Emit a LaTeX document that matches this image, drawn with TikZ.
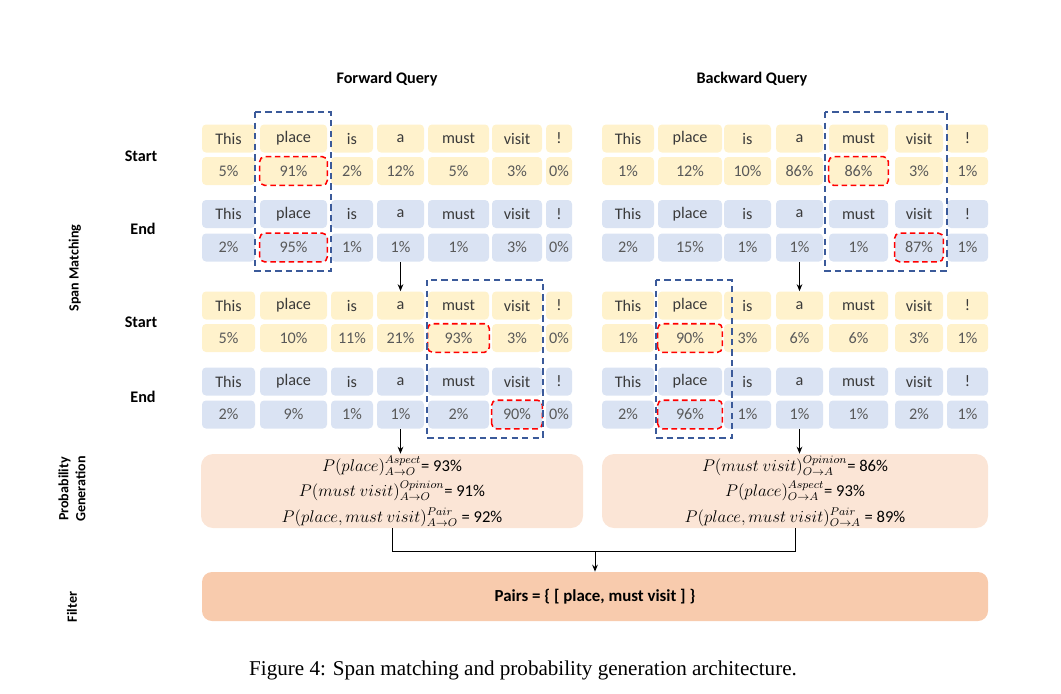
\documentclass[tikz,border=0pt]{standalone}
\usepackage{fontspec}
\setmainfont{Carlito}
\newfontfamily\capfont{Liberation Serif}
\usetikzlibrary{arrows.meta}

\definecolor{startfill}{HTML}{FFF2CC}
\definecolor{endfill}{HTML}{DAE3F3}
\definecolor{probfill}{HTML}{FBE5D6}
\definecolor{filterfill}{HTML}{F8CBAD}
\definecolor{spanblue}{HTML}{3B5A9A}
\definecolor{pickred}{HTML}{FF0000}
\definecolor{wordgray}{HTML}{3A3A3A}
\definecolor{pctgray}{HTML}{595959}
\newcommand{\pxu}{0.025cm}

\tikzset{
  tok/.style={rectangle, rounded corners=0.1cm, inner sep=0pt, minimum height=28*\pxu,
    text=wordgray, font=\fontsize{11.5}{13}\selectfont},
  pct/.style={tok, text=pctgray},
  lbl/.style={font=\bfseries\fontsize{11.5}{13}\selectfont},
  side/.style={rotate=90, align=center, font=\bfseries\fontsize{10}{12}\selectfont},
  spanbox/.style={draw=spanblue, line width=1.1pt, dash pattern=on 4.5pt off 3pt},
  pickbox/.style={draw=pickred, line width=1.1pt, dash pattern=on 4pt off 2.5pt, rounded corners=0.12cm},
  probbox/.style={rectangle, rounded corners=0.3cm, fill=probfill, align=center,
    minimum width=382*\pxu, minimum height=74*\pxu, inner sep=0pt,
    font=\fontsize{11.8}{18}\selectfont},
  arr/.style={-{Stealth[length=5pt,width=4pt]}, line width=0.7pt},
}

\begin{document}
\begin{tikzpicture}[x=\pxu, y=-\pxu]
  \useasboundingbox (0,0) rectangle (1061,693);

  % titles and row labels
  \node[lbl] (fq) at (387,79) {Forward Query};
  \node[lbl] (bq) at (752,79) {Backward Query};
  \node[lbl] (start1) at (141,156) {Start};
  \node[lbl] (end1) at (143,229) {End};
  \node[lbl] (start2) at (141,322) {Start};
  \node[lbl] (end2) at (143,397) {End};
  \node[side] (span) at (75,268) {Span Matching};
  \node[side] (probgen) at (72,489) {Probability\\Generation};
  \node[side] (filt) at (72,607) {Filter};

  % forward query tokens
  \foreach \x/\cw/\word/\vsa/\vea/\vsb/\veb [count=\col] in {
      228.5/53/This/5/2/5/2, 293.5/67/place/91/95/10/9, 352/42/is/2/1/11/1,
      400.5/47/a/12/1/21/1, 458.5/61/must/5/1/93/2, 517/50/visit/3/3/3/90,
      559/26/!/0/0/0/0}{
    \node[tok, fill=startfill, minimum width=\cw*\pxu] (f1st\col) at (\x,138.5) {\word};
    \node[pct, fill=startfill, minimum width=\cw*\pxu] (f1sv\col) at (\x,171) {\vsa\%};
    \node[tok, fill=endfill, minimum width=\cw*\pxu] (f1et\col) at (\x,214) {\word};
    \node[pct, fill=endfill, minimum width=\cw*\pxu] (f1ev\col) at (\x,247.5) {\vea\%};
    \node[tok, fill=startfill, minimum width=\cw*\pxu] (f2st\col) at (\x,305.5) {\word};
    \node[pct, fill=startfill, minimum width=\cw*\pxu] (f2sv\col) at (\x,338) {\vsb\%};
    \node[tok, fill=endfill, minimum width=\cw*\pxu] (f2et\col) at (\x,381.5) {\word};
    \node[pct, fill=endfill, minimum width=\cw*\pxu] (f2ev\col) at (\x,414.5) {\veb\%};
  }

  % backward query tokens
  \foreach \x/\cw/\word/\vsa/\vea/\vsb/\veb [count=\col] in {
      628/52/This/1/2/1/2, 690/64/place/12/15/90/96, 747.5/47/is/10/1/3/1,
      799.5/47/a/86/1/6/1, 858.5/59/must/86/1/6/1, 919/48/visit/3/87/3/2,
      967.5/41/!/1/1/1/1}{
    \node[tok, fill=startfill, minimum width=\cw*\pxu] (b1st\col) at (\x,138.5) {\word};
    \node[pct, fill=startfill, minimum width=\cw*\pxu] (b1sv\col) at (\x,171) {\vsa\%};
    \node[tok, fill=endfill, minimum width=\cw*\pxu] (b1et\col) at (\x,214) {\word};
    \node[pct, fill=endfill, minimum width=\cw*\pxu] (b1ev\col) at (\x,247.5) {\vea\%};
    \node[tok, fill=startfill, minimum width=\cw*\pxu] (b2st\col) at (\x,305.5) {\word};
    \node[pct, fill=startfill, minimum width=\cw*\pxu] (b2sv\col) at (\x,338) {\vsb\%};
    \node[tok, fill=endfill, minimum width=\cw*\pxu] (b2et\col) at (\x,381.5) {\word};
    \node[pct, fill=endfill, minimum width=\cw*\pxu] (b2ev\col) at (\x,414.5) {\veb\%};
  }

  % selected spans
  \foreach \cell in {f1sv2, f1ev2, f2sv5, f2ev6, b1sv5, b1ev6, b2sv2, b2ev2}
    \draw[pickbox] (\cell.south west) rectangle (\cell.north east);
  \draw[spanbox] (255,112) rectangle (331,271);
  \draw[spanbox] (427,280) rectangle (543,438);
  \draw[spanbox] (825,112) rectangle (947,271);
  \draw[spanbox] (656,280) rectangle (732,438);

  % probability generation
  \node[probbox] (fprob) at (392,491)
    {$P(place)^{Aspect}_{A\to O}$= 93\%\\
     $P(must\ visit)^{Opinion}_{A\to O}$= 91\%\\
     $P(place, must\ visit)^{Pair}_{A\to O}$ = 92\%};
  \node[probbox, minimum width=386*\pxu] (bprob) at (795,491)
    {$P(must\ visit)^{Opinion}_{O\to A}$= 86\%\\
     $P(place)^{Aspect}_{O\to A}$= 93\%\\
     $P(place, must\ visit)^{Pair}_{O\to A}$ = 89\%};

  % filter
  \node[rectangle, rounded corners=0.25cm, fill=filterfill, minimum width=786*\pxu,
    minimum height=49*\pxu, font=\bfseries\fontsize{12}{14}\selectfont]
    (filter) at (595,596.5) {Pairs = \{ [ place, must visit ] \}};

  % connectors
  \draw[arr] (f1ev4) -- (f2st4);
  \draw[arr] (b1ev4) -- (b2st4);
  \draw[arr] (f2ev4) -- (f2ev4 |- fprob.north);
  \draw[arr] (b2ev4) -- (b2ev4 |- bprob.north);
  \coordinate (join) at (595,551);
  \draw[line width=0.7pt] (fprob.south) |- (join) -| (bprob.south);
  \draw[arr] (join) -- (filter.north);

  % caption
  \node[font=\capfont\fontsize{15}{17}\selectfont] (cap) at (523,670)
    {Figure 4: Span matching and probability generation architecture.};
\end{tikzpicture}
\end{document}
